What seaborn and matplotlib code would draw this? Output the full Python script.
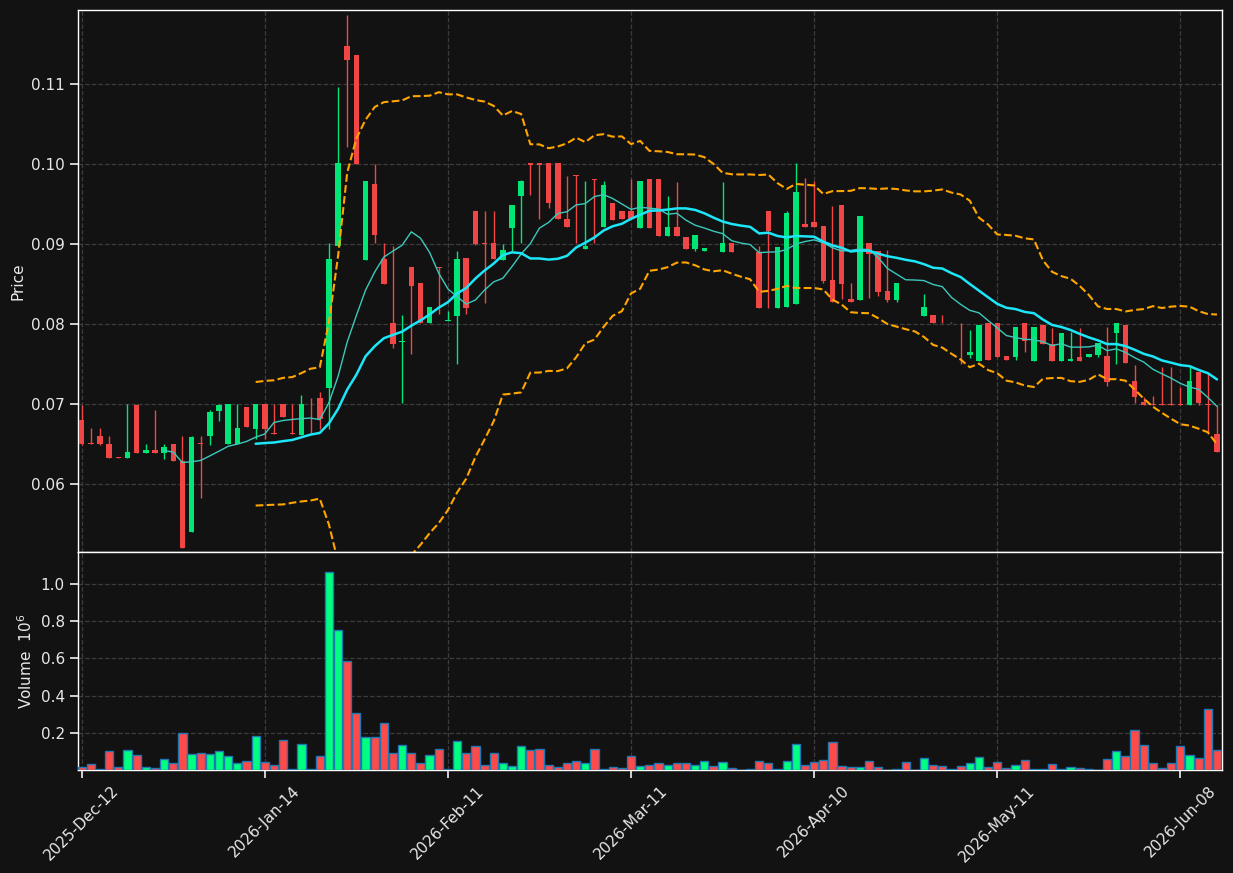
import numpy as np
import pandas as pd
import seaborn as sns
import matplotlib.pyplot as plt

# OHLC, one candle per trading row
opens = [.0680, .0651, .0660, .0650, .0634, .0633, .0699, .0639, .0643, .0639,
         .0650, .0629, .0540, .0651, .0660, .0692, .0650, .0650, .0696, .0669,
         .0700, .0664, .0700, .0664, .0661, .0707, .0708, .0720, .0898, .1147,
         .1136, .0880, .0975, .0881, .0801, .0778, .0872, .0851, .0802, .0871,
         .0804, .0810, .0883, .0941, .0901, .0901, .0880, .0920, .0960, .1001,
         .1001, .1001, .1001, .0932, .0987, .0894, .0981, .0922, .0951, .0941,
         .0941, .0920, .0981, .0981, .0910, .0921, .0909, .0894, .0891, .0892,
         .0890, .0901, .0892, .0892, .0890, .0941, .0820, .0822, .0825, .0925,
         .0928, .0923, .0855, .0949, .0831, .0830, .0901, .0891, .0841, .0830,
         .0852, .0852, .0810, .0811, .0802, .0802, .0802, .0761, .0754, .0801,
         .0801, .0760, .0759, .0801, .0754, .0799, .0775, .0754, .0754, .0759,
         .0759, .0761, .0760, .0789, .0799, .0729, .0703, .0700, .0700, .0700,
         .0700, .0699, .0740, .0700, .0663]
highs = [.0699, .0670, .0670, .0660, .0634, .0700, .0700, .0650, .0693, .0650,
         .0650, .0660, .0660, .0660, .0693, .0700, .0700, .0700, .0696, .0700,
         .0700, .0700, .0700, .0700, .0711, .0708, .0715, .0902, .1096, .1186,
         .1136, .0979, .1000, .0901, .0898, .0811, .0872, .0851, .0822, .0872,
         .0817, .0891, .0883, .0941, .0941, .0941, .0900, .0949, .0980, .1001,
         .1001, .1001, .1001, .0985, .0987, .0979, .0981, .0979, .0951, .0941,
         .0981, .0979, .0981, .0981, .0960, .0978, .0909, .0911, .0895, .0892,
         .0978, .0901, .0892, .0892, .0898, .0941, .0897, .0941, .1001, .0983,
         .0979, .0923, .0948, .0949, .0851, .0935, .0901, .0891, .0893, .0851,
         .0852, .0852, .0838, .0811, .0811, .0803, .0802, .0793, .0799, .0801,
         .0801, .0760, .0796, .0801, .0796, .0799, .0795, .0789, .0790, .0795,
         .0763, .0776, .0796, .0801, .0799, .0749, .0709, .0710, .0746, .0746,
         .0721, .0746, .0740, .0739, .0699]
lows = [.0649, .0650, .0649, .0633, .0633, .0633, .0639, .0639, .0639, .0631,
        .0629, .0520, .0540, .0583, .0649, .0679, .0650, .0650, .0672, .0656,
        .0656, .0663, .0684, .0663, .0661, .0663, .0669, .0669, .0898, .1021,
        .1000, .0880, .0902, .0850, .0770, .0702, .0763, .0802, .0802, .0813,
        .0804, .0750, .0813, .0899, .0826, .0881, .0880, .0892, .0902, .0962,
        .0932, .0945, .0931, .0922, .0901, .0894, .0901, .0922, .0930, .0931,
        .0931, .0920, .0920, .0910, .0910, .0910, .0894, .0891, .0891, .0891,
        .0890, .0890, .0891, .0891, .0820, .0820, .0820, .0822, .0825, .0922,
        .0922, .0851, .0828, .0831, .0828, .0830, .0833, .0835, .0828, .0828,
        .0851, .0851, .0810, .0801, .0801, .0801, .0750, .0758, .0754, .0755,
        .0759, .0755, .0755, .0765, .0754, .0775, .0754, .0754, .0754, .0754,
        .0759, .0759, .0723, .0750, .0752, .0702, .0699, .0699, .0699, .0699,
        .0699, .0699, .0699, .0663, .0640]
closes = [.0650, .0650, .0650, .0633, .0633, .0640, .0639, .0643, .0639, .0646,
          .0629, .0520, .0659, .0650, .0690, .0699, .0700, .0670, .0672, .0700,
          .0669, .0663, .0684, .0663, .0700, .0706, .0681, .0881, .1001, .1130,
          .1000, .0979, .0911, .0850, .0775, .0779, .0848, .0802, .0822, .0870,
          .0805, .0881, .0820, .0900, .0900, .0881, .0893, .0949, .0979, .0999,
          .0999, .0952, .0931, .0922, .0985, .0898, .0980, .0974, .0930, .0931,
          .0931, .0979, .0920, .0910, .0921, .0910, .0894, .0911, .0895, .0891,
          .0901, .0890, .0891, .0891, .0820, .0917, .0897, .0939, .0965, .0922,
          .0922, .0854, .0828, .0850, .0828, .0935, .0888, .0840, .0830, .0851,
          .0851, .0851, .0821, .0801, .0801, .0801, .0801, .0765, .0799, .0755,
          .0759, .0755, .0796, .0779, .0796, .0775, .0754, .0789, .0756, .0754,
          .0763, .0776, .0728, .0801, .0752, .0709, .0699, .0699, .0699, .0699,
          .0699, .0729, .0701, .0699, .0640]
# volume in millions
volumes = [.018, .031, .003, .101, .018, .106, .079, .014, .009, .058,
           .036, .198, .085, .090, .085, .101, .074, .036, .047, .182,
           .041, .025, .160, .004, .139, .004, .074, 1.063, .755, .587,
           .306, .177, .177, .252, .090, .133, .090, .036, .079, .112,
           .004, .155, .090, .128, .025, .090, .036, .020, .128, .106,
           .112, .025, .018, .036, .047, .036, .112, .004, .014, .009,
           .074, .020, .025, .036, .025, .036, .036, .025, .047, .020,
           .041, .009, .002, .003, .047, .036, .003, .047, .139, .025,
           .041, .052, .150, .020, .014, .014, .047, .014, .001, .003,
           .041, .001, .063, .025, .020, .003, .020, .036, .068, .014,
           .041, .009, .025, .052, .003, .003, .031, .003, .014, .009,
           .003, .001, .058, .101, .074, .214, .133, .036, .009, .036,
           .128, .079, .063, .328, .106]

tick_labels = ['2025-Dec-12', '2026-Jan-14', '2026-Feb-11', '2026-Mar-11',
               '2026-Apr-10', '2026-May-11', '2026-Jun-08']
tick_step = 20

df = pd.DataFrame({'open': opens, 'high': highs, 'low': lows,
                   'close': closes, 'volume': volumes})
df['idx'] = np.arange(len(df))
df['ma10'] = df['close'].rolling(10).mean()
df['ma20'] = df['close'].rolling(20).mean()
std20 = df['close'].rolling(20).std()
df['bb_up'] = df['ma20'] + 2 * std20
df['bb_lo'] = df['ma20'] - 2 * std20

up = df['close'] >= df['open']
candle_col = np.where(up, '#00e676', '#f04646')
vol_col = np.where(up, '#00ff80', '#ff4a4a')

bg = '#121212'
sns.set_theme(style='darkgrid', rc={
    'figure.facecolor': bg, 'axes.facecolor': bg, 'axes.edgecolor': 'white',
    'grid.color': '#3c3c3c', 'grid.linestyle': '--', 'grid.linewidth': 0.9,
    'text.color': '#e8e8e8', 'axes.labelcolor': '#e8e8e8',
    'xtick.color': '#e8e8e8', 'ytick.color': '#e8e8e8',
    'xtick.bottom': True, 'ytick.left': True,
})
plt.rcParams['font.family'] = ['DejaVu Sans']

fig = plt.figure(figsize=(12.33, 8.73), dpi=100)
ax = fig.add_axes([0.0633, 0.3677, 0.9278, 0.6208])
ax_v = fig.add_axes([0.0633, 0.1180, 0.9278, 0.2497], sharex=ax)

# candles
ax.vlines(df['idx'], df['low'], df['high'], colors=candle_col, linewidth=1, zorder=3)
body_lo = np.minimum(df['open'], df['close'])
body_h = np.maximum(np.abs(df['close'] - df['open']), 0.00008)
ax.bar(df['idx'], body_h, bottom=body_lo, width=0.6, color=candle_col,
       linewidth=0, zorder=4)

# moving averages and bands
sns.lineplot(data=df, x='idx', y='ma10', ax=ax, color='#3cc8bc', linewidth=1, zorder=5)
sns.lineplot(data=df, x='idx', y='ma20', ax=ax, color='#1ce6f8', linewidth=1.8, zorder=5)
sns.lineplot(data=df, x='idx', y='bb_up', ax=ax, color='#ffa500', linewidth=1.5,
             linestyle='--', zorder=5)
sns.lineplot(data=df, x='idx', y='bb_lo', ax=ax, color='#ffa500', linewidth=1.5,
             linestyle='--', zorder=5)

ax.set_ylim(0.05154, 0.11925)
ax.set_xlim(-0.4, len(df) - 0.45)
ax.set_ylabel('Price', fontsize=11)
ax.set_xlabel('')
ax.tick_params(axis='both', labelsize=11)
ax.tick_params(axis='x', labelbottom=False)

# volume
ax_v.bar(df['idx'], df['volume'], width=0.9, color=vol_col, edgecolor='#1f77b4',
         linewidth=1, zorder=3)
ax_v.set_ylim(0, 1.173)
ax_v.set_yticks([0.2, 0.4, 0.6, 0.8, 1.0])
ax_v.set_ylabel('Volume  $10^6$', fontsize=11)
ax_v.set_xticks(np.arange(len(tick_labels)) * tick_step)
ax_v.set_xticklabels(tick_labels, rotation=45, fontsize=11)
ax_v.tick_params(axis='y', labelsize=11)

for a in (ax, ax_v):
    for s in a.spines.values():
        s.set_color('white')
        s.set_linewidth(1)
    a.grid(True)

fig.savefig('out.png', dpi=100, facecolor=bg)
